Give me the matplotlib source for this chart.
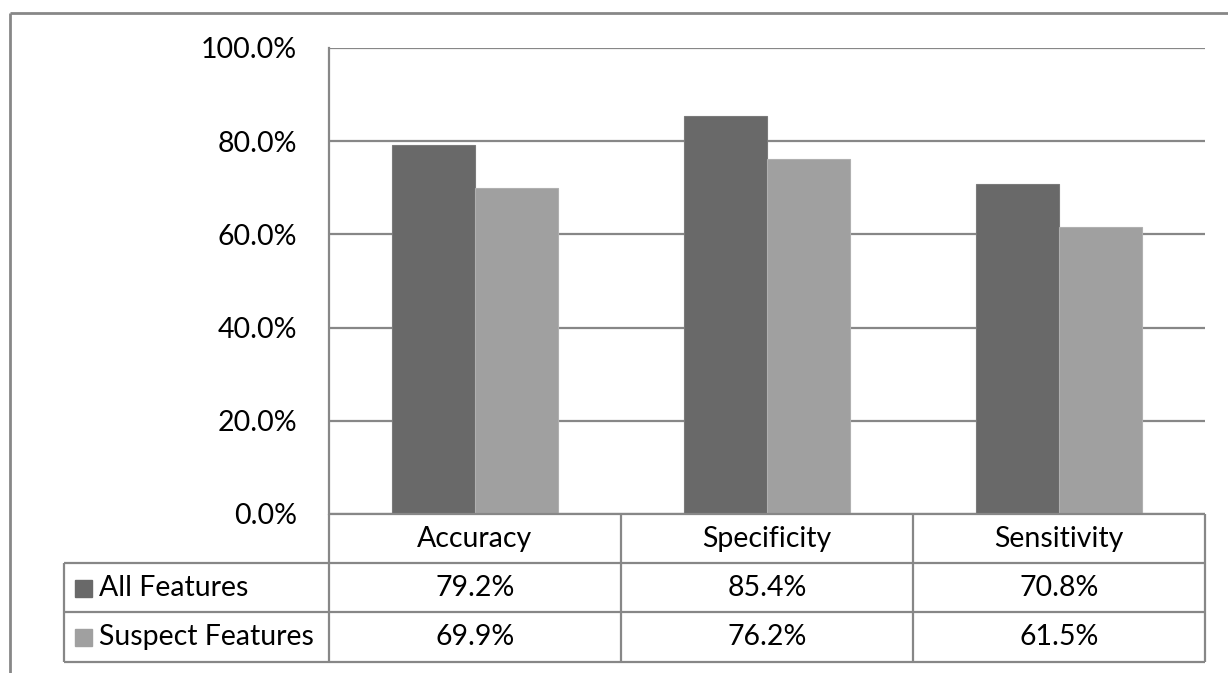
import matplotlib
matplotlib.use("Agg")
import matplotlib.pyplot as plt
from matplotlib.lines import Line2D
from matplotlib.patches import Rectangle
import numpy as np

categories = ["Accuracy", "Specificity", "Sensitivity"]
series_names = ["All Features", "Suspect Features"]
all_features = [79.2, 85.4, 70.8]
suspect_features = [69.9, 76.2, 61.5]
y_ticks = [0, 20, 40, 60, 80, 100]

W, H = 1228, 673
DARK = "#696969"
LIGHT = "#a0a0a0"
LINE = "#878787"
FONT = "Lato"
FS = 20.5

plt.rcParams["font.family"] = [FONT, "DejaVu Sans"]


def fx(x):
    return x / W


def fy(y):
    return 1 - y / H


def hline(fig, x0, x1, y, lw=1.6):
    fig.add_artist(Line2D([fx(x0), fx(x1)], [fy(y), fy(y)], color=LINE, lw=lw,
                          transform=fig.transFigure, solid_capstyle="butt"))


def vline(fig, x, y0, y1, lw=1.6):
    fig.add_artist(Line2D([fx(x), fx(x)], [fy(y0), fy(y1)], color=LINE, lw=lw,
                          transform=fig.transFigure, solid_capstyle="butt"))


fig = plt.figure(figsize=(W / 100, H / 100), dpi=100)

# plot area in pixels
left, right, top, bottom = 329, 1205, 48, 514
ax = fig.add_axes([fx(left), fy(bottom), fx(right - left), (bottom - top) / H])

x = np.arange(len(categories))
bw = 1 / 3.5
ax.bar(x - bw / 2, all_features, width=bw, color=DARK, edgecolor="#7a7a7a", lw=0.8, zorder=3)
ax.bar(x + bw / 2, suspect_features, width=bw, color=LIGHT, edgecolor="#b0b0b0", lw=0.8, zorder=3)

ax.set_xlim(-0.5, len(categories) - 0.5)
ax.set_ylim(0, 100)
ax.set_yticks(y_ticks)
ax.set_yticklabels([f"{t:.1f}%" for t in y_ticks], fontsize=FS)
ax.tick_params(axis="y", length=0, pad=23)
ax.set_xticks([])
ax.yaxis.grid(True, color=LINE, lw=1.6)
ax.set_axisbelow(True)
for s in ["top", "right", "bottom"]:
    ax.spines[s].set_visible(False)
ax.spines["left"].set_color(LINE)
ax.spines["left"].set_linewidth(1.6)

# outer chart border
hline(fig, 10, W, 13, lw=2)
vline(fig, 10, 13, H, lw=2)

# data table
rows = [514, 563, 612, 662]
col_w = (right - left) / len(categories)
cols = [left + i * col_w for i in range(len(categories) + 1)]
tleft = 64

hline(fig, left, right, rows[0])
for y in rows[1:]:
    hline(fig, tleft, right, y)
for cx in cols:
    vline(fig, cx, rows[0], rows[-1])
vline(fig, tleft, rows[1], rows[-1])

for i, cat in enumerate(categories):
    cx = (cols[i] + cols[i + 1]) / 2
    fig.text(fx(cx), fy((rows[0] + rows[1]) / 2), cat, ha="center", va="center", fontsize=FS)

for r, (name, vals, col) in enumerate(zip(series_names, [all_features, suspect_features], [DARK, LIGHT])):
    yc = (rows[r + 1] + rows[r + 2]) / 2
    fig.add_artist(Rectangle((fx(75), fy(yc + 9)), 17 / W, 17 / H, color=col,
                             transform=fig.transFigure))
    fig.text(fx(99), fy(yc), name, ha="left", va="center", fontsize=FS)
    for i, v in enumerate(vals):
        cx = (cols[i] + cols[i + 1]) / 2
        fig.text(fx(cx), fy(yc), f"{v:.1f}%", ha="center", va="center", fontsize=FS)

fig.savefig("out.png", dpi=100, facecolor="white")
